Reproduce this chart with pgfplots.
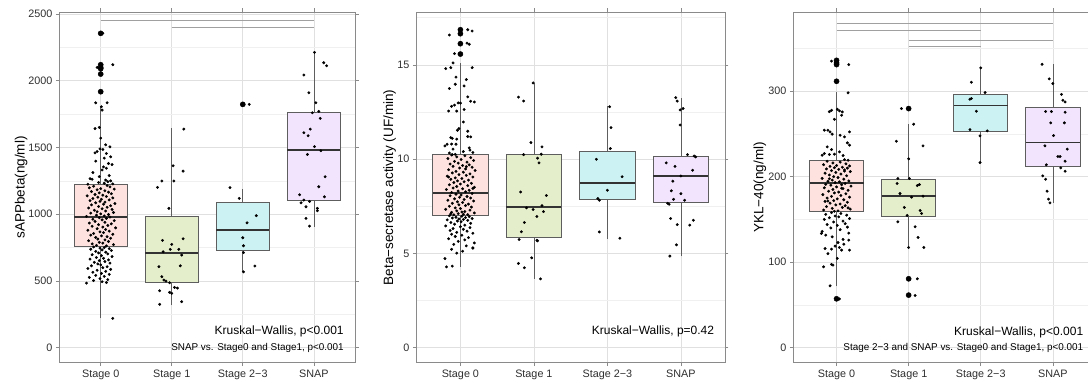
\documentclass[border=0pt]{standalone}
\usepackage{pgfplots}
\pgfplotsset{compat=1.18}
\usepackage{fontspec}
\setmainfont{Liberation Sans}

\definecolor{c0}{HTML}{FDE2DF}
\definecolor{c1}{HTML}{E5EECB}
\definecolor{c2}{HTML}{CDF2F3}
\definecolor{c3}{HTML}{F3E4FD}
\definecolor{boxedge}{HTML}{5E5E5E}
\definecolor{medcol}{HTML}{333333}
\definecolor{framegray}{HTML}{8A8A8A}
\definecolor{gridmaj}{HTML}{E0E0E0}
\definecolor{gridmin}{HTML}{F0F0F0}
\definecolor{ticktext}{HTML}{2E2E2E}
\definecolor{cmpgray}{HTML}{A0A0A0}

\tikzset{
  kw/.style={anchor=east, font=\fontsize{12}{14}\selectfont, text=black},
  kw2/.style={anchor=east, font=\fontsize{9.9}{11}\selectfont, text=black},
}

\pgfplotsset{
  gg/.style={
    scale only axis, height=350.7pt,
    xmin=0.4, xmax=4.6,
    xtick={1,2,3,4}, xticklabels={Stage 0,Stage 1,Stage 2−3,SNAP},
    axis line style={draw=framegray, line width=0.7pt},
    tick align=outside, major tick length=3.5pt, minor tick length=0pt,
    every tick/.style={draw=framegray, line width=0.6pt},
    xmajorgrids, ymajorgrids, yminorgrids,
    major grid style={draw=gridmaj, line width=0.6pt},
    minor grid style={draw=gridmin, line width=0.4pt},
    ticklabel style={font=\fontsize{10.8}{12}\selectfont, text=ticktext},
    /pgf/number format/assume math mode=true,
    /pgf/number format/1000 sep={},
    scaled y ticks=false,
    ylabel style={font=\fontsize{13.5}{15}\selectfont, anchor=center},
  },
  whisk/.style={draw=boxedge, line width=0.6pt, mark=none},
  boxs/.style={draw=boxedge, line width=0.7pt, mark=none},
  med/.style={draw=medcol, line width=1.8pt, mark=none},
  pts/.style={only marks, mark=*, mark size=1.25pt, draw=black, fill=black},
  outl/.style={only marks, mark=*, mark size=2.6pt, draw=black, fill=black},
  cmp/.style={draw=cmpgray, line width=0.7pt, mark=none},
}

% box and whiskers: position, left edge, right edge, lower whisker,
% lower quartile, median, upper quartile, upper whisker, fill colour
\newcommand{\ggbox}[9]{%
  \addplot[whisk] coordinates {(#1,#4)(#1,#5)};
  \addplot[whisk] coordinates {(#1,#7)(#1,#8)};
  \addplot[boxs, fill=#9] coordinates {(#2,#5)(#3,#5)(#3,#7)(#2,#7)} -- cycle;
  \addplot[med] coordinates {(#2,#6)(#3,#6)};
}

\begin{document}
\begin{tikzpicture}

% ---------------- sAPPbeta ----------------
\begin{axis}[gg, at={(59.5pt,20.3pt)}, anchor=south west, width=295.5pt,
  xmin=0.42, xmax=4.58, ymin=-112, ymax=2515,
  ytick={0,500,1000,1500,2000,2500}, minor ytick={250,750,1250,1750,2250},
  ylabel={sAPPbeta(ng/ml)},
  ylabel style={at={(axis description cs:-0.13,0.5)}}]
\ggbox{1}{0.625}{1.375}{220}{762}{981}{1223}{1810}{c0}
\ggbox{2}{1.625}{2.375}{320}{487}{707}{981}{1643}{c1}
\ggbox{3}{2.625}{3.375}{569}{727}{881}{1089}{1189}{c2}
\ggbox{4}{3.625}{4.375}{906}{1101}{1481}{1763}{2217}{c3}
% outliers
\addplot[outl] coordinates {(1,2355)(1,2120)(1,2100)(1,2090)(1,2050)(1,1918)(3,1823)};
% Stage 0
\addplot[pts] coordinates {
(1.03,2355)(0.95,2100)(1.17,2120)(0.99,2050)(1.01,1918)
(0.93,1835)(1.09,1835)(1.01,1805)(1.02,1780)(0.98,1650)(0.92,1642)(1.0,1570)(1.07,1520)(1.13,1505)(0.99,1490)(1.03,1485)(0.95,1470)(0.92,1460)(1.08,1455)(1.14,1430)(1.05,1420)(0.93,1398)(1.11,1380)(1.16,1372)(1.04,1355)(1.08,1345)(1.02,1332)(0.89,1312)(1.12,1290)(0.98,1282)(0.85,1266)(0.88,1262)(1.07,1256)(1.14,1250)(1.1,1244)(0.97,1238)(1.05,1232)(1.17,1227)(0.82,1225)
(1.09,1215)(0.9,1210)(1.13,1205)(0.84,1198)(1.0,1192)(1.19,1188)(0.95,1183)(1.06,1176)(0.87,1170)(1.11,1165)(0.98,1160)(1.15,1154)(0.92,1148)(1.03,1143)(0.81,1138)(1.08,1133)(0.96,1128)(1.17,1122)(0.89,1118)(1.01,1112)(1.12,1107)(0.85,1102)(0.99,1097)(1.06,1091)(0.93,1086)(1.2,1080)(1.04,1075)(0.87,1070)(1.14,1064)(0.97,1058)(1.09,1052)(0.83,1047)(1.02,1041)(1.16,1036)(0.91,1030)(1.07,1024)(0.95,1019)(1.18,1013)(0.86,1008)(1.0,1003)(1.11,998)(0.94,993)(1.05,988)(0.8,984)(1.13,979)(0.98,974)(1.08,969)(0.89,963)(1.02,958)(1.19,952)(0.92,946)(1.06,940)(0.84,934)(1.15,928)(0.97,922)(1.1,916)(0.88,910)(1.03,904)(1.21,898)(0.95,892)(1.07,886)(0.82,880)(1.12,874)(0.99,868)(1.04,862)(0.9,856)(1.17,850)(0.86,844)(1.01,838)(1.09,832)(0.93,826)(1.14,820)(0.96,814)(1.06,808)(0.83,802)(1.11,796)(0.98,790)(1.03,784)(0.88,778)(1.18,772)(0.94,767)(1.08,763)
(0.9,755)(1.05,750)(0.99,746)(1.12,742)(0.86,738)(1.02,733)(1.15,728)(0.93,722)(1.07,716)(0.97,710)(1.1,703)(0.88,697)(1.01,690)(1.16,683)(0.94,676)(1.04,670)(0.85,664)(1.11,658)(0.98,652)(1.06,646)(0.91,640)(1.13,634)(0.96,628)(1.0,621)(0.87,614)(1.09,607)(1.03,600)(0.82,594)(1.14,587)(0.95,580)(1.07,572)(0.89,565)(1.01,557)(1.12,550)(0.93,542)(1.05,535)(0.84,527)(0.99,518)(1.1,510)(0.9,503)(1.02,495)(0.8,484)(1.08,488)(1.17,220)
};
% Stage 1
\addplot[pts] coordinates {
(1.8,1201)(1.86,1249)(2.03,1249)(2.02,1363)(2.16,1323)(2.17,1638)(1.96,1044)(1.87,804)(2.16,816)(2.0,774)(2.1,737)(1.98,737)(1.88,719)(2.14,694)(1.82,607)(2.12,614)(1.86,532)(1.89,507)(1.92,499)(1.97,487)(2.04,452)(2.08,447)(1.83,427)(1.97,415)(2.0,407)(1.83,325)(2.14,345)
};
% Stage 2-3
\addplot[pts] coordinates {
(2.82,1199)(2.95,1119)(3.19,989)(3.06,936)(3.0,824)(3.01,764)(3.01,712)(3.17,612)(3.01,569)(3.09,1823)
};
% SNAP
\addplot[pts] coordinates {
(4.01,2212)(4.14,2135)(4.18,2112)(3.86,2043)(3.93,1910)(4.03,1835)(4.07,1770)(3.98,1760)(4.09,1718)(3.95,1638)(3.86,1611)(3.92,1588)(4.01,1506)(4.1,1476)(3.91,1448)(4.16,1281)(4.07,1206)(3.8,1146)(4.15,1131)(3.82,1086)(3.86,1106)(3.94,1096)(3.89,1056)(4.05,1044)(4.05,1026)(3.89,969)(3.94,911)
};
\addplot[cmp] coordinates {(1,2450)(4,2450)};
\addplot[cmp] coordinates {(2,2400)(4,2400)};
\node[kw] at (axis cs:4.47,125) {Kruskal−Wallis, p<0.001};
\node[kw2] at (axis cs:4.47,0) {SNAP vs. Stage0 and Stage1, p<0.001};
\end{axis}

% ---------------- Beta-secretase ----------------
\begin{axis}[gg, at={(416.3pt,20.3pt)}, anchor=south west, width=308.7pt,
  ymin=-0.79, ymax=17.8,
  ytick={0,5,10,15}, minor ytick={2.5,7.5,12.5,17.5},
  ylabel={Beta−secretase activity (UF/min)},
  ylabel style={at={(axis description cs:-0.086,0.5)}}]
\ggbox{1}{0.625}{1.375}{4.29}{7.03}{8.21}{10.28}{15.1}{c0}
\ggbox{2}{1.625}{2.375}{3.67}{5.83}{7.47}{10.26}{14.04}{c1}
\ggbox{3}{2.625}{3.375}{5.76}{7.87}{8.72}{10.43}{12.8}{c2}
\ggbox{4}{3.625}{4.375}{4.86}{7.70}{9.11}{10.17}{13.24}{c3}
\addplot[outl] coordinates {(1,16.86)(1,16.65)(1,16.12)(1,15.57)};
% Stage 0
\addplot[pts] coordinates {
(0.85,16.58)(1.1,16.86)(1.16,16.79)(1.09,16.15)(1.12,16.09)(0.92,15.59)(0.9,15.1)(0.8,14.8)(0.87,14.85)(1.16,14.85)(0.94,14.35)(1.08,14.22)(0.93,13.97)(1.05,13.88)(0.85,13.74)(1.1,13.3)(1.14,13.07)(1.19,13.03)(0.97,12.98)(0.88,12.8)(0.92,12.86)(1.0,12.97)(0.84,12.55)(0.95,12.55)(1.05,12.63)(1.04,11.97)(0.98,11.62)(0.96,11.53)(1.1,11.48)(1.14,11.18)(0.87,11.14)(0.89,11.1)(0.95,11.06)(1.1,11.2)(0.82,10.79)(0.88,10.8)(0.94,10.79)(0.79,10.7)(0.9,10.53)(1.12,10.6)(1.13,10.48)(0.85,10.33)(0.89,10.24)(1.04,10.4)(1.17,10.35)
(0.88,10.22)(1.06,10.18)(0.95,10.12)(1.14,10.08)(0.83,10.03)(1.01,9.98)(1.18,9.93)(0.92,9.88)(1.09,9.84)(0.97,9.79)(0.86,9.74)(1.12,9.7)(1.03,9.66)(0.9,9.62)(1.16,9.57)(0.99,9.53)(1.07,9.48)(0.84,9.44)(1.2,9.4)(0.94,9.35)(1.04,9.31)(0.89,9.27)(1.13,9.22)(0.98,9.18)(1.08,9.14)(0.82,9.1)(1.17,9.05)(0.93,9.01)(1.02,8.97)(0.87,8.93)(1.11,8.89)(0.96,8.85)(1.05,8.8)(0.91,8.76)(1.15,8.72)(1.0,8.68)(0.85,8.64)(1.1,8.6)(0.95,8.55)(1.19,8.51)(0.9,8.47)(1.03,8.43)(0.81,8.39)(1.12,8.35)(0.97,8.31)(1.07,8.27)(0.88,8.23)(1.16,8.18)(0.94,8.14)(1.01,8.1)(0.86,8.06)(1.09,8.02)(0.99,7.98)(1.14,7.94)(0.92,7.9)(1.05,7.86)(0.83,7.82)(1.18,7.78)(0.96,7.74)(1.03,7.7)(0.89,7.66)(1.11,7.62)(0.98,7.58)(1.07,7.54)(0.85,7.5)(1.15,7.46)(0.93,7.42)(1.0,7.38)(0.8,7.34)(1.13,7.3)(0.95,7.26)(1.06,7.22)(0.88,7.18)(1.19,7.15)(0.97,7.11)(1.04,7.08)(0.91,7.05)(1.1,7.06)(0.87,7.1)(1.02,7.2)(1.17,8.45)(0.84,9.05)(1.08,9.6)(0.93,10.25)
(0.85,7.0)(1.02,6.97)(1.12,6.95)(0.94,6.92)(1.07,6.9)(0.89,6.88)(1.16,6.85)(0.98,6.83)(1.04,6.8)(0.82,6.78)(1.1,6.75)(0.96,6.72)(1.01,6.68)(0.87,6.64)(1.14,6.6)(0.92,6.55)(1.06,6.5)(0.8,6.46)(1.0,6.42)(1.13,6.37)(0.9,6.32)(1.04,6.28)(0.86,6.22)(1.09,6.18)(0.95,6.12)(1.17,6.07)(0.88,6.02)(1.02,5.97)(0.93,5.9)(1.11,5.84)(0.84,5.78)(1.06,5.72)(0.97,5.64)(1.19,5.56)(0.91,5.48)(1.08,5.4)(1.17,5.3)(0.88,5.22)(1.03,5.12)(0.95,5.02)(0.79,4.73)(0.81,4.29)(0.89,4.33)(1.17,5.28)
};
% Stage 1
\addplot[pts] coordinates {
(1.79,13.29)(1.86,13.08)(1.99,14.04)(1.96,10.88)(2.11,10.65)(1.86,10.24)(2.1,10.26)(2.05,10.05)(2.07,9.8)(1.82,8.26)(2.17,8.07)(2.11,7.54)(1.9,7.42)(1.99,7.33)(2.13,7.22)(2.04,6.96)(1.87,6.64)(1.83,6.15)(1.8,5.74)(2.04,5.7)(2.05,5.67)(1.97,4.77)(1.79,4.47)(1.87,4.24)(2.09,3.65)
};
% Stage 2-3
\addplot[pts] coordinates {
(3.03,12.78)(3.05,11.67)(3.04,10.56)(2.85,9.99)(3.2,9.07)(3.0,8.35)(2.87,7.91)(2.89,7.82)(2.89,6.14)(3.17,5.81)
};
% SNAP
\addplot[pts] coordinates {
(3.93,13.26)(3.95,13.08)(3.99,12.61)(4.03,12.68)(3.99,11.81)(4.09,10.24)(4.18,10.17)(4.2,10.12)(3.8,9.8)(3.92,9.62)(4.16,9.41)(4.0,9.11)(3.89,8.83)(3.87,8.32)(4.0,8.17)(3.9,7.87)(4.05,7.82)(3.82,7.66)(3.84,7.61)(3.86,6.85)(4.17,6.76)(4.12,6.5)(3.95,6.53)(3.94,5.46)(3.85,4.86)
};
\node[kw] at (axis cs:4.5,0.85) {Kruskal−Wallis, p=0.42};
\end{axis}

% ---------------- YKL-40 ----------------
\begin{axis}[gg, at={(793.3pt,20.3pt)}, anchor=south west, width=302.8pt,
  ymin=-17.5, ymax=392.5,
  ytick={0,100,200,300}, minor ytick={50,150,250,350},
  ylabel={YKL−40(ng/ml)},
  ylabel style={at={(axis description cs:-0.11,0.5)}}]
\ggbox{1}{0.625}{1.375}{72}{159.3}{192.4}{218.5}{299}{c0}
\ggbox{2}{1.625}{2.375}{117.2}{153.4}{177.6}{197.4}{262}{c1}
\ggbox{3}{2.625}{3.375}{216.5}{253.5}{283.1}{296.3}{327.5}{c2}
\ggbox{4}{3.625}{4.375}{169.4}{212.2}{239.9}{281.5}{332.2}{c3}
\addplot[outl] coordinates {(1,336)(1,333)(1,331)(1,311.5)(1,57.2)(2,279.6)(2,80.6)(2,61.5)};
% Stage 0
\addplot[pts] coordinates {
(0.93,335)(1.17,331)(1.16,298)(0.9,276)(0.93,277.6)(1.01,278.8)(1.04,276.9)(1.08,275.7)(0.97,267)(1.07,271.8)(0.88,254.3)(0.83,254.3)(0.91,252.3)(1.18,252.3)(0.94,249.6)(1.05,248.4)(1.15,239.5)(1.11,246.5)(1.18,236.8)(0.87,234.8)(0.83,227)(0.9,225.9)(0.97,226.3)(1.11,220)(0.8,225)(1.04,229)(0.93,231.7)(1.09,224.7)(1.16,219.2)
(0.87,218)(1.05,217)(0.95,216)(1.13,215)(0.82,214)(1.0,213)(1.18,212.5)(0.91,212)(1.08,211)(0.97,210.5)(1.15,210)(0.86,209)(1.03,208.5)(1.11,208)(0.93,207)(1.19,206)(0.99,205)(0.84,204)(1.06,203)(0.9,202)(1.14,201)(0.96,200)(1.02,199)(0.8,198)(1.1,197)(0.94,196)(1.17,195)(0.88,194.5)(1.04,194)(0.98,193)(1.12,192)(0.85,191)(1.07,190.5)(0.92,190)(1.2,189)(1.0,188)(0.83,187)(1.09,186)(0.95,185)(1.16,184)(0.89,183)(1.03,182)(0.97,181)(1.13,180)(0.81,179)(1.06,178)(0.93,177)(1.18,176)(0.87,175)(1.01,174)(1.1,173)(0.96,172)(0.84,171)(1.15,170)(0.91,169)(1.05,168)(0.99,167)(1.12,166)(0.86,165)(1.08,164)(0.94,163)(1.19,162)(0.82,161)(1.02,160)(0.97,159.5)(1.11,206.5)(0.9,197.5)(1.07,186.5)(0.88,171.5)(1.16,163.5)
(0.93,158)(1.06,157)(0.85,156)(1.14,155)(0.98,154)(1.03,153)(0.9,152)(1.18,151)(0.83,150)(1.09,148)(0.96,147)(1.12,145)(0.87,144)(1.01,143)(1.15,141)(0.92,140)(1.05,138)(0.8,136)(1.17,134)(0.79,133.6)(0.85,131.6)(0.94,129.7)(1.09,126.6)(1.17,125.8)(0.84,116)(0.93,115.3)(0.98,118.8)(1.04,117.2)(1.07,114.1)(1.18,114.1)(1.01,104.4)(0.93,97.4)(0.95,96.6)(0.82,94.6)(0.91,72.4)(1.04,57)(1.02,123)(0.88,110)(1.1,121)
};
% Stage 1
\addplot[pts] coordinates {
(1.9,279.6)(2.07,261.3)(1.83,241.4)(2.2,236)(2.0,220.8)(1.85,197.8)(2.01,197.8)(1.84,192)(2.15,190.8)(2.12,189.6)(1.88,180.3)(2.04,176)(2.2,177.2)(1.94,164)(2.16,160.4)(2.18,157)(1.98,154.6)(1.85,147.2)(2.09,141.4)(2.13,128.9)(2.0,117.2)(2.21,117.2)(2.12,80.6)(2.09,61.1)
};
% Stage 2-3
\addplot[pts] coordinates {
(3.0,327.1)(2.87,310.4)(3.06,298.3)(2.85,290.5)(2.87,291.3)(2.94,276.5)(2.85,255)(2.99,247.7)(3.09,253.5)(2.99,216.5)
};
% SNAP
\addplot[pts] coordinates {
(3.85,331.4)(3.95,314.3)(4.0,308.8)(4.12,296.3)(4.14,289.3)(4.17,287.4)(3.9,276.1)(3.98,276.1)(4.17,275.3)(3.97,262.9)(4.16,262.9)(4.01,248)(3.89,236)(4.2,232.1)(4.07,223.5)(4.1,223.5)(4.17,218.1)(3.91,213.8)(4.11,210.3)(4.17,206.4)(3.86,200.9)(3.9,197)(3.92,183)(3.94,173.7)(3.96,169.4)
};
\addplot[cmp] coordinates {(1,379)(4,379)};
\addplot[cmp] coordinates {(1,370.8)(3,370.8)};
\addplot[cmp] coordinates {(2,359.1)(4,359.1)};
\addplot[cmp] coordinates {(2,352.5)(3,352.5)};
\node[kw] at (axis cs:4.47,18) {Kruskal−Wallis, p<0.001};
\node[kw2] at (axis cs:4.47,0) {Stage 2−3 and SNAP vs. Stage0 and Stage1, p<0.001};
\end{axis}

\pgfresetboundingbox
\path[use as bounding box] (0pt,0pt) rectangle (1088pt,383pt);
\end{tikzpicture}
\end{document}
